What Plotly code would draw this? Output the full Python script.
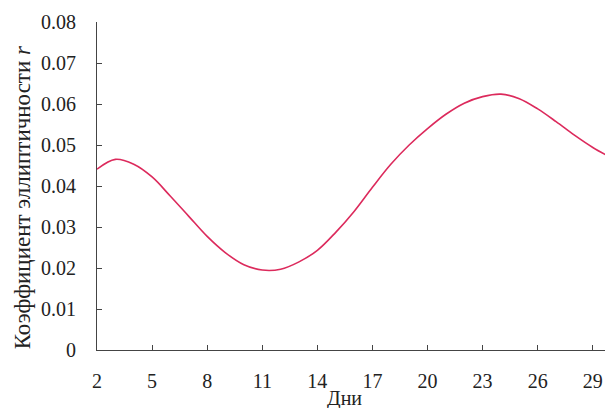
import plotly.graph_objects as go

# Days of the month and ellipticity coefficient r
days = list(range(2, 31))
ellipticity = [
    0.0441, 0.0465, 0.0453, 0.0422, 0.0375, 0.0326, 0.0277, 0.0237, 0.0208,
    0.0195, 0.0197, 0.0215, 0.0243, 0.0287, 0.0338, 0.0397, 0.0453, 0.0500,
    0.0540, 0.0575, 0.0602, 0.0618, 0.0624, 0.0613, 0.0588, 0.0557, 0.0524,
    0.0494, 0.0469,
]
x_ticks = list(range(2, 30, 3))
y_ticks = [0, 0.01, 0.02, 0.03, 0.04, 0.05, 0.06, 0.07, 0.08]
y_labels = ["0", "0.01", "0.02", "0.03", "0.04", "0.05", "0.06", "0.07", "0.08"]
x_title = "Дни"
y_title = "Коэффициент эллиптичности <i>r</i>"

fig = go.Figure()
fig.add_trace(go.Scatter(
    x=days, y=ellipticity,
    mode="lines",
    line=dict(color="#dc2a5c", width=1.6, shape="spline", smoothing=1.0),
    showlegend=False,
))

axis_common = dict(
    showline=True, linecolor="#444", linewidth=1,
    ticks="inside", ticklen=5, tickcolor="#444",
    showgrid=False, zeroline=False,
    tickfont=dict(size=20, color="#222"),
)

fig.update_xaxes(range=[2, 30.1], tickvals=x_ticks, ticklabelstandoff=13, **axis_common)
fig.update_yaxes(range=[0, 0.08], tickvals=y_ticks, ticktext=y_labels,
                 ticklabelstandoff=16, **axis_common)

# axis titles as annotations so they sit where the original has them
fig.add_annotation(text=x_title, xref="paper", yref="paper", x=0.479, y=-0.149,
                   xanchor="center", yanchor="middle", showarrow=False,
                   font=dict(size=20, color="#222"))
fig.add_annotation(text=y_title, xref="paper", yref="paper", x=-0.145, y=0.466,
                   xanchor="center", yanchor="middle", showarrow=False, textangle=-90,
                   font=dict(size=23, color="#222"))

# page body adds an 8px offset, so the figure is sized/placed to compensate
fig.update_layout(
    width=605, height=400,
    margin=dict(l=89, r=0, t=14, b=58),
    paper_bgcolor="white", plot_bgcolor="white",
    font=dict(family="Liberation Serif"),
)

fig.write_html("out.html")
